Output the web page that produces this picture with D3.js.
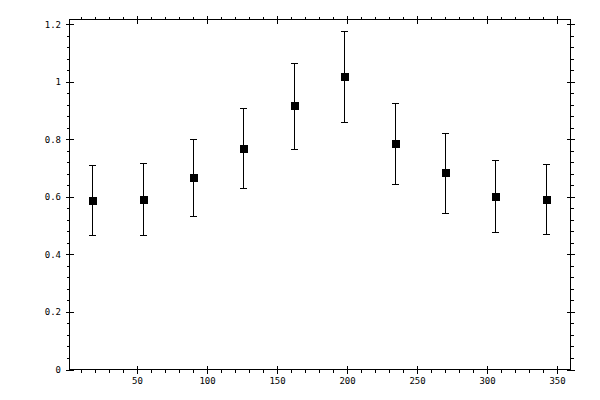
<!DOCTYPE html>
<html>
<head>
<meta charset="utf-8">
<script src="https://cdn.jsdelivr.net/npm/d3@7"></script>
<style>
  body { margin: 0; background: #fff; }
  svg { display: block; }
  .tick text { font-family: "DejaVu Sans Mono", monospace; font-size: 9px; fill: #000; }
  .tick line { stroke: #000; stroke-width: 1; }
</style>
</head>
<body>
<svg id="chart" width="600" height="400"></svg>
<script>
// angle (deg) of each bin
let angles = [18, 54, 90, 126, 162, 198, 234, 270, 306, 342];
let means  = [0.588, 0.592, 0.668, 0.769, 0.918, 1.019, 0.786, 0.685, 0.602, 0.592];
let upper  = [0.710, 0.717, 0.803, 0.911, 1.066, 1.178, 0.925, 0.824, 0.727, 0.714];
let lower  = [0.467, 0.467, 0.533, 0.630, 0.765, 0.859, 0.644, 0.543, 0.477, 0.470];
let xMajor = [50, 100, 150, 200, 250, 300, 350];
let yMajor = [0, 0.2, 0.4, 0.6, 0.8, 1, 1.2];

let svg = d3.select("#chart");

let pLeft = 69.5, pRight = 570.5, pTop = 19.5, pBottom = 369.5;

let x = d3.scaleLinear().domain([1.79, 359.6]).range([pLeft, pRight]);
let y = d3.scaleLinear().domain([0, 1.217]).range([pBottom, pTop]);

let xMinor = d3.range(10, 360, 10).filter(v => v % 50 != 0);
let yMinor = d3.range(0.04, 1.2, 0.04).map(v => +v.toFixed(2)).filter(v => Math.abs(v * 5 - Math.round(v * 5)) > 1e-6);

let fmt = d => d3.format("~g")(d);

let addAxis = (axis, tx, ty) => {
  let g = svg.append("g").attr("transform", `translate(${tx},${ty})`).call(axis);
  g.select(".domain").remove();
  g.selectAll("line").attr("shape-rendering", "crispEdges");
  return g;
};

// bottom: labels + outer majors, minors, inner majors
addAxis(d3.axisBottom(x).tickValues(xMajor).tickSize(4).tickPadding(4).tickFormat(fmt), 0, pBottom);
addAxis(d3.axisBottom(x).tickValues(xMinor).tickSize(3).tickFormat(""), 0, pBottom);
addAxis(d3.axisBottom(x).tickValues(xMajor).tickSize(-4).tickFormat(""), 0, pBottom);
// top
addAxis(d3.axisTop(x).tickValues(xMajor).tickSize(4).tickFormat(""), 0, pTop);
addAxis(d3.axisTop(x).tickValues(xMinor).tickSize(3).tickFormat(""), 0, pTop);
addAxis(d3.axisTop(x).tickValues(xMajor).tickSize(-4).tickFormat(""), 0, pTop);
// left
addAxis(d3.axisLeft(y).tickValues(yMajor).tickSize(4).tickPadding(4.5).tickFormat(fmt), pLeft, 0);
addAxis(d3.axisLeft(y).tickValues(yMinor).tickSize(3).tickFormat(""), pLeft, 0);
addAxis(d3.axisLeft(y).tickValues(yMajor).tickSize(-4).tickFormat(""), pLeft, 0);
// right
addAxis(d3.axisRight(y).tickValues(yMajor).tickSize(4).tickFormat(""), pRight, 0);
addAxis(d3.axisRight(y).tickValues(yMinor).tickSize(3).tickFormat(""), pRight, 0);
addAxis(d3.axisRight(y).tickValues(yMajor).tickSize(-4).tickFormat(""), pRight, 0);

// frame
svg.append("rect")
  .attr("x", pLeft).attr("y", pTop)
  .attr("width", pRight - pLeft).attr("height", pBottom - pTop)
  .attr("fill", "none").attr("stroke", "#000").attr("stroke-width", 1)
  .attr("shape-rendering", "crispEdges");

let data = angles.map((a, i) => ({a: a, m: means[i], hi: upper[i], lo: lower[i]}));

let pts = svg.append("g").attr("id", "points");

let bars = pts.selectAll("g.err").data(data).enter().append("g").attr("class", "err")
  .attr("stroke", "#000").attr("stroke-width", 1).attr("shape-rendering", "crispEdges");

bars.append("line")
  .attr("x1", d => Math.round(x(d.a)) + 0.5).attr("x2", d => Math.round(x(d.a)) + 0.5)
  .attr("y1", d => y(d.hi)).attr("y2", d => y(d.lo));
bars.append("line")
  .attr("x1", d => Math.round(x(d.a)) - 3).attr("x2", d => Math.round(x(d.a)) + 4)
  .attr("y1", d => Math.round(y(d.hi)) + 0.5).attr("y2", d => Math.round(y(d.hi)) + 0.5);
bars.append("line")
  .attr("x1", d => Math.round(x(d.a)) - 3).attr("x2", d => Math.round(x(d.a)) + 4)
  .attr("y1", d => Math.round(y(d.lo)) + 0.5).attr("y2", d => Math.round(y(d.lo)) + 0.5);

pts.selectAll("rect").data(data).enter().append("rect")
  .attr("x", d => Math.round(x(d.a)) - 3)
  .attr("y", d => Math.round(y(d.m)) - 3)
  .attr("width", 8).attr("height", 8)
  .attr("fill", "#000")
  .attr("shape-rendering", "crispEdges");
</script>
</body>
</html>
